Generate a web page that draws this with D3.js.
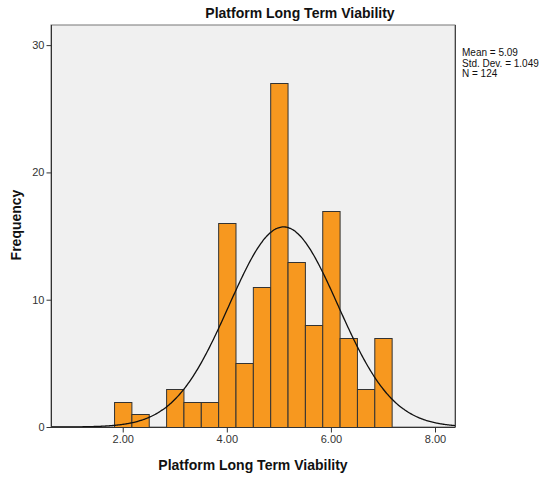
<!DOCTYPE html>
<html><head><meta charset="utf-8">
<script src="https://cdn.jsdelivr.net/npm/d3@7"></script>
<style>body{margin:0;background:#fff;font-family:"Liberation Sans",Arial,sans-serif;}</style>
</head><body><svg id="c" width="549" height="478"></svg>
<script>
const binCenters = [2.0, 2.3333, 2.6667, 3.0, 3.3333, 3.6667, 4.0, 4.3333, 4.6667, 5.0, 5.3333, 5.6667, 6.0, 6.3333, 6.6667, 7.0];
const counts     = [2, 1, 0, 3, 2, 2, 16, 5, 11, 27, 13, 8, 17, 7, 3, 7];
const binWidth = 1/3;
const xTicks = [2, 4, 6, 8];
const yTicks = [0, 10, 20, 30];
const stats = {mean: 5.09, sd: 1.049, n: 124};
const legendLines = ["Mean = 5.09", "Std. Dev. = 1.049", "N = 124"];
const title = "Platform Long Term Viability";
const xLabel = "Platform Long Term Viability";
const yLabel = "Frequency";

const svg = d3.select("#c");
const L = 51, R = 455, T = 25, B = 427;
const x = d3.scaleLinear().domain([0.622, 8.384]).range([L, R]);
const y = d3.scaleLinear().domain([0, 31.58]).range([B, T]);

svg.append("rect").attr("x", L).attr("y", T).attr("width", R - L).attr("height", B - T)
  .attr("fill", "#f0f0f0").attr("stroke", "#777").attr("stroke-width", 1);

svg.append("g").selectAll("rect").data(binCenters.map((c, i) => ({c, v: counts[i]})).filter(d => d.v > 0))
  .join("rect")
  .attr("x", d => x(d.c - binWidth/2) + 0.5)
  .attr("width", d => x(d.c + binWidth/2) - x(d.c - binWidth/2))
  .attr("y", d => Math.round(y(d.v)) + 0.5)
  .attr("height", d => B - Math.round(y(d.v)))
  .attr("fill", "#f7981f").attr("stroke", "#333").attr("stroke-width", 1);

const scale = stats.n * binWidth;
const pts = d3.range(0, 401).map(i => {
  const xv = 0.622 + (8.384 - 0.622) * i / 400;
  const yv = scale / (stats.sd * Math.sqrt(2 * Math.PI)) * Math.exp(-0.5 * ((xv - stats.mean) / stats.sd) ** 2);
  return [xv, yv];
});
svg.append("path").attr("d", d3.line().x(d => x(d[0])).y(d => y(d[1])).curve(d3.curveBasis)(pts))
  .attr("fill", "none").attr("stroke", "#111").attr("stroke-width", 1.3);

// axes lines
svg.append("line").attr("x1", L + 0.5).attr("x2", L + 0.5).attr("y1", T).attr("y2", B + 0.5).attr("stroke", "#333");
svg.append("line").attr("x1", L).attr("x2", R).attr("y1", B + 0.5).attr("y2", B + 0.5).attr("stroke", "#333");
svg.append("line").attr("x1", R + 0.5).attr("x2", R + 0.5).attr("y1", T).attr("y2", B + 0.5).attr("stroke", "#444");

const xa = svg.append("g").attr("transform", `translate(0,${B + 0.5})`)
  .call(d3.axisBottom(x).tickValues(xTicks).tickFormat(d3.format(".2f")).tickSize(5).tickPadding(3));
xa.select(".domain").remove();
xa.selectAll("line").attr("stroke", "#333");
xa.selectAll("text").attr("font-family", "Liberation Sans, Arial, sans-serif").attr("font-size", 11).attr("fill", "#333");

const ya = svg.append("g").attr("transform", `translate(${L + 0.5},0)`)
  .call(d3.axisLeft(y).tickValues(yTicks).tickSize(5).tickPadding(2));
ya.select(".domain").remove();
ya.selectAll("line").attr("stroke", "#333");
ya.selectAll("text").attr("font-family", "Liberation Sans, Arial, sans-serif").attr("font-size", 11).attr("fill", "#333");

svg.append("text").attr("x", 300).attr("y", 18).attr("text-anchor", "middle")
  .attr("font-size", 14).attr("font-weight", "bold").attr("fill", "#111").text(title);
svg.append("text").attr("x", 253).attr("y", 470).attr("text-anchor", "middle")
  .attr("font-size", 14).attr("font-weight", "bold").attr("fill", "#111").text(xLabel);
svg.append("text").attr("transform", "translate(21,225) rotate(-90)").attr("text-anchor", "middle")
  .attr("font-size", 14).attr("font-weight", "bold").attr("fill", "#111").text(yLabel);

svg.append("g").selectAll("text").data(legendLines).join("text")
  .attr("x", 462).attr("y", (d, i) => 56 + i * 10.5)
  .attr("font-size", 10).attr("fill", "#111").text(d => d);
</script></body></html>
